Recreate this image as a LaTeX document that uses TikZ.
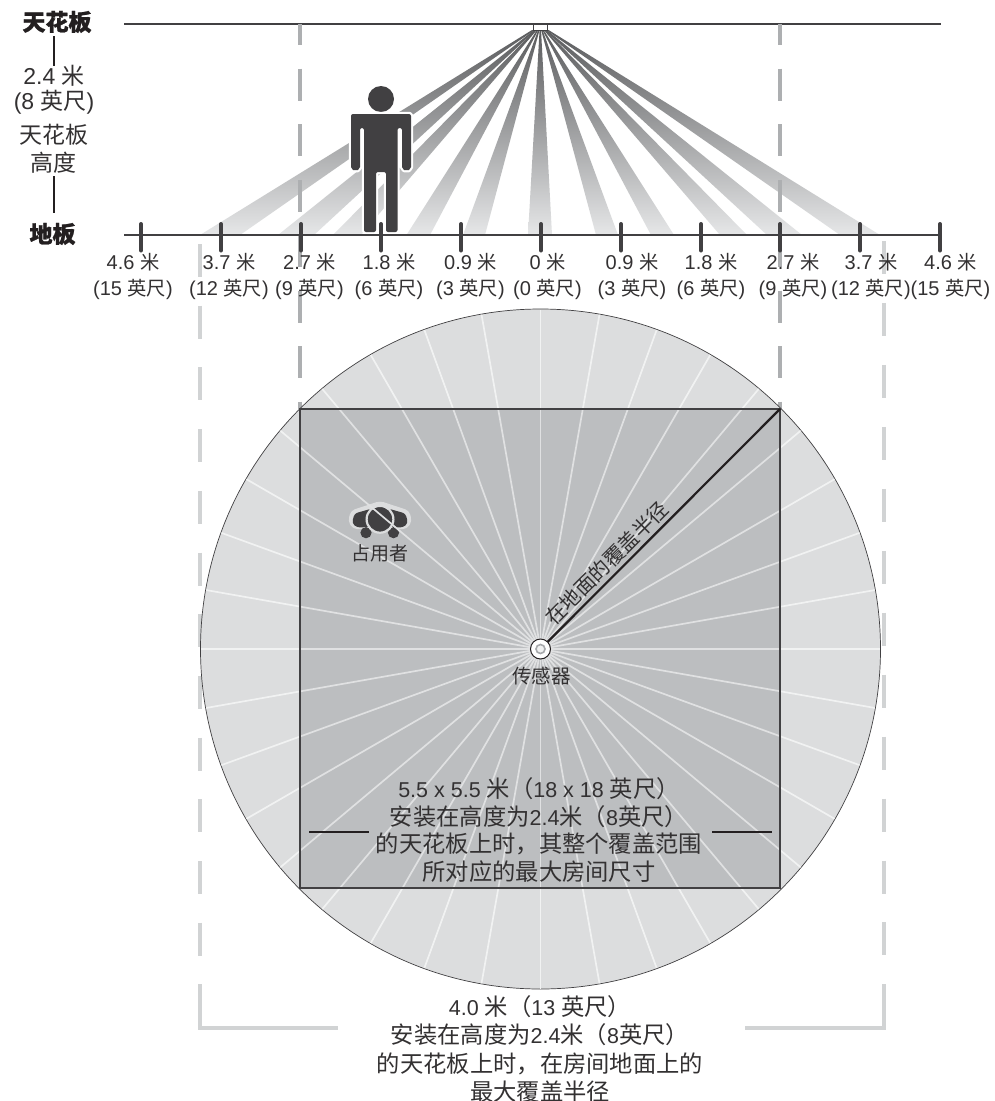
\documentclass[tikz,border=0pt]{standalone}
\usepackage{fontspec}
\setmainfont{Liberation Sans}
\newfontfamily\cjk{Noto Sans CJK SC}
\newfontfamily\cjkh[BoldFeatures={FakeBold=1}]{Noto Sans CJK SC}
\newcommand{\zh}[1]{{\cjk #1}}
\newcommand{\zs}[1]{{\cjk\fontsize{19.3}{20}\selectfont #1}}
\newcommand{\zm}[1]{{\cjk\fontsize{23.3}{24}\selectfont #1}}
\newcommand{\zl}[1]{{\cjk\fontsize{23}{24}\selectfont #1}}
\usetikzlibrary{calc}
\definecolor{ink}{HTML}{333132}
\definecolor{linek}{HTML}{414042}
\definecolor{darkk}{HTML}{231F20}
\definecolor{beamA}{HTML}{5A5B5D}
\definecolor{beamB}{HTML}{A7A9AC}
\definecolor{beamC}{HTML}{E6E7E8}
\definecolor{dashA}{HTML}{ADAFB1}
\definecolor{dashB}{HTML}{D1D3D4}
\definecolor{discc}{HTML}{DCDDDE}
\definecolor{roomc}{HTML}{BCBEC0}
\definecolor{rayA}{HTML}{F1F2F2}
\definecolor{rayB}{HTML}{E0E1E2}
\tikzset{
  x=1pt,y=-1pt,
  lab/.style={inner sep=0pt,text=ink,align=center,font=\fontsize{20}{26}\selectfont},
  side/.style={inner sep=0pt,text=ink,align=center,font=\fontsize{23}{25}\selectfont},
  big/.style={inner sep=0pt,text=ink,align=center,font=\fontsize{21.5}{27.4}\selectfont},
  bigb/.style={inner sep=0pt,text=ink,align=center,font=\fontsize{21.5}{28.3}\selectfont},
  head/.style={inner sep=0pt,text=darkk,font=\fontsize{23}{24}\selectfont\cjkh\bfseries},
  axisline/.style={draw=linek,line width=2.6pt},
  tickmark/.style={draw=linek,line width=4pt,line cap=round},
  rule/.style={draw=darkk,line width=2.2pt},
  bar/.style={draw=darkk,line width=2.8pt},
  dashmid/.style={draw=dashA,line width=4.5pt,dash pattern=on 32pt off 23.5pt,dash phase=11pt},
  dashlight/.style={draw=dashB,line width=4pt,dash pattern=on 33pt off 28.7pt},
  beam/.style={top color=beamA,middle color=beamB,bottom color=beamC},
  ray/.style={line width=1.7pt},
  figk/.style={fill=linek},
}
\begin{document}
\begin{tikzpicture}
\useasboundingbox (0,0) rectangle (994,1101);
\fill[white] (0,0) rectangle (994,1101);
% --- named anchor points
\coordinate (ceilL) at (124,24);
\coordinate (ceilR) at (941,24);
\coordinate (floorL) at (124,235);
\coordinate (floorR) at (941,235);
\coordinate (c) at (540.5,649);
% --- beams
\foreach \l/\r in {200/240,278/314,333/361,406.5/430,463/485,528/552,596/618,651/674,720/747,767/802,840/880}{
  \pgfmathsetmacro{\mc}{(\l+\r)/2}
  \pgfmathsetmacro{\w}{(\r-\l)*0.03}
  \pgfmathsetmacro{\tc}{540.3+(\mc-540)*0.022}
  \shade[beam] (\tc-\w,30) -- (\tc+\w,30) -- (\r,235) -- (\l,235) -- cycle;
}
% --- ceiling, sensor housing
\draw[line width=0.8pt,draw=linek,fill=white] (533.5,24) rectangle (547.5,30);
\draw[axisline] (ceilL) -- (ceilR);
% --- dashed guides
\draw[dashmid] (300,24) coordinate (gl1) -- (300,409) coordinate (gl2);
\draw[dashmid] (780,24) coordinate (gr1) -- (780,409) coordinate (gr2);
\draw[dashlight] (199.5,244) coordinate (ll1) -- (199.5,984) coordinate (ll2);
\draw[dashlight,dash pattern=on 33pt off 28.95pt] (883.5,241) coordinate (lr1) -- (883.5,984) coordinate (lr2);
\draw[draw=dashB,line width=4pt] (ll2) -- (199.5,1028) -- (338,1028);
\draw[draw=dashB,line width=4pt] (lr2) -- (883.5,1028) -- (745,1028);
% --- person
\fill[linek] (381,99) circle[radius=13pt];
\draw[draw=white,line width=4.4pt,fill=white,rounded corners=2pt,line join=round]
  (351,114) -- (411,114) -- (411,169) -- (406.5,171) -- (402,169) -- (402,128) -- (397.5,128) -- (397.5,232)
  -- (386,232) -- (386,172) -- (376,172) -- (376,232) -- (364,232) -- (364,128) -- (360,128) -- (360,169)
  -- (355.5,171) -- (351,169) -- cycle;
\fill[linek,rounded corners=2pt]
  (351,114) -- (411,114) -- (411,169) -- (406.5,171) -- (402,169) -- (402,128) -- (397.5,128) -- (397.5,232)
  -- (386,232) -- (386,172) -- (376,172) -- (376,232) -- (364,232) -- (364,128) -- (360,128) -- (360,169)
  -- (355.5,171) -- (351,169) -- cycle;
% --- floor
\draw[axisline] (floorL) -- (floorR);
\foreach \x in {141,221,301,381,461,541,621,701,780,860,940}{
  \draw[tickmark] (\x,224) -- (\x,250.5);
}
% --- top labels
\node[lab] (l1) at (133,276) {4.6 \zs{米}\\(15 \zs{英尺})};
\node[lab] (l2) at (229,276) {3.7 \zs{米}\\(12 \zs{英尺})};
\node[lab] (l3) at (309.5,276) {2.7 \zs{米}\\(9 \zs{英尺})};
\node[lab] (l4) at (389,276) {1.8 \zs{米}\\(6 \zs{英尺})};
\node[lab] (l5) at (470.5,276) {0.9 \zs{米}\\(3 \zs{英尺})};
\node[lab] (l6) at (547.5,276) {0 \zs{米}\\(0 \zs{英尺})};
\node[lab] (l7) at (632,276) {0.9 \zs{米}\\(3 \zs{英尺})};
\node[lab] (l8) at (711,276) {1.8 \zs{米}\\(6 \zs{英尺})};
\node[lab] (l9) at (793,276) {2.7 \zs{米}\\(9 \zs{英尺})};
\node[lab] (l10) at (871,276) {3.7 \zs{米}\\(12 \zs{英尺})};
\node[lab] (l11) at (950.5,276) {4.6 \zs{米}\\(15 \zs{英尺})};
% --- left column
\node[head] (ceilT) at (57,22) {天花板};
\node[head] (floorT) at (52.5,234) {地板};
\node[side] (hA) at (54,89.5) {2.4 \zl{米}\\(8 \zl{英尺})};
\node[inner sep=0pt,text=ink,align=center,font=\fontsize{23}{28}\selectfont\cjk] (hB) at (54,149) {天花板\\高度};
\coordinate (v1) at (54,36); \coordinate (v2) at (54,66);
\coordinate (v3) at (54,176); \coordinate (v4) at (54,213);
\draw[rule] (v1) -- (v2);
\draw[rule] (v3) -- (v4);
% --- plan view
\draw[fill=discc,draw=linek,line width=0.7pt] (c) circle[radius=340pt];
\foreach \a in {0,10,...,350}{
  \draw[ray,draw=rayA] (c) -- ++({339.5*cos(\a)},{339.5*sin(\a)});
}
\fill[roomc] (300,409) rectangle (780,888);
% --- occupant
\fill[discc,rounded corners=4pt] (348,521) -- (351,510.5) -- (380,501) -- (409,510.5) -- (412,521) -- (407,529) -- (353,529) -- cycle;
\fill[figk,rounded corners=3pt] (352,523) -- (354.5,513.5) -- (372,508.5) -- (370,527) -- (357,527.5) -- cycle;
\fill[figk,rounded corners=3pt] (408,523) -- (405.5,513.5) -- (388,508.5) -- (390,527) -- (403,527.5) -- cycle;
\fill[figk] (366,532.7) circle[radius=5.6pt];
\fill[figk] (393.5,532.7) circle[radius=5.6pt];
\draw[draw=discc,line width=2.2pt,fill=linek] (380,519.3) circle[radius=13.4pt];
% --- rays over the room
\begin{scope}
\clip (300,409) rectangle (780,888);
\foreach \a in {0,10,...,350}{
  \draw[ray,draw=rayB] (c) -- ++({339.5*cos(\a)},{339.5*sin(\a)});
}
\end{scope}
\draw[draw=linek,line width=2.6pt] (300,409) rectangle (780,888);
% --- sensor and radius line
\coordinate (corner) at (780,409);
\draw[rule] (c) -- (corner);
\draw[draw=darkk,line width=1pt,fill=white] (c) circle[radius=10pt];
\draw[draw=beamB,line width=1.6pt,fill=rayA] (c) circle[radius=4.5pt];
% --- texts on the plan
\node[inner sep=0pt,text=ink,font=\fontsize{19}{22}\selectfont\cjk] (occ) at (380,553) {占用者};
\node[inner sep=0pt,text=ink,font=\fontsize{19.5}{22}\selectfont\cjk] (sen) at (541.5,676) {传感器};
\node[inner sep=0pt,text=ink,rotate=45,font=\fontsize{20.5}{22}\selectfont\cjk] (rad) at (606.5,563) {在地面的覆盖半径};
\node[big] (room) at (539,830) {5.5 x 5.5 \zm{米（}18 x 18 \zm{英尺）}\\
 \zm{安装在高度为}2.4\zm{米（}8\zm{英尺）}\\
 \zm{的天花板上时，其整个覆盖范围}\\
 \zm{所对应的最大房间尺寸}};
\coordinate (b1) at (309,832); \coordinate (b2) at (369,832);
\coordinate (b3) at (712,832); \coordinate (b4) at (772,832);
\draw[bar] (b1) -- (b2);
\draw[bar] (b3) -- (b4);
\node[bigb] (cover) at (540,1049) {4.0 \zm{米（}13 \zm{英尺）}\\
 \zm{安装在高度为}2.4\zm{米（}8\zm{英尺）}\\
 \zm{的天花板上时，在房间地面上的}\\
 \zm{最大覆盖半径}};
\end{tikzpicture}
\end{document}
